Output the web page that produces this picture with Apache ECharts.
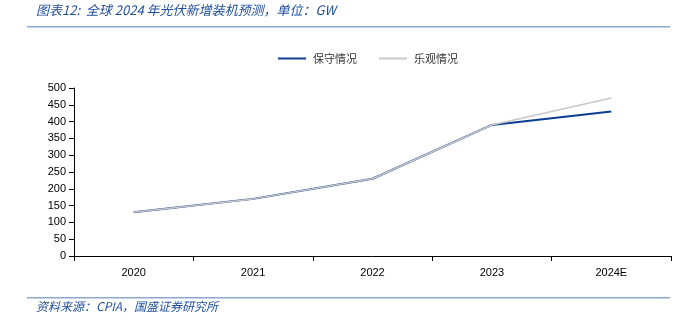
<!DOCTYPE html>
<html><head><meta charset="utf-8">
<script src="https://cdn.jsdelivr.net/npm/echarts@6/dist/echarts.min.js"></script>
<style>html,body{margin:0;padding:0;background:#fff}#c{width:691px;height:323px}</style>
</head><body><div id="c"></div>
<script>
const categories = ['2020','2021','2022','2023','2024E'];
const conservative = [130, 170, 230, 390, 430];
const optimistic = [130, 170, 230, 390, 470];
const seriesNames = ['保守情况','乐观情况'];
const titleText = '图表12:  全球 2024 年光伏新增装机预测，单位：GW';
const sourceText = '资料来源：CPIA，国盛证券研究所';

const chart = echarts.init(document.getElementById('c'));
const font = '"Noto Sans CJK SC", "DejaVu Sans", sans-serif';
chart.setOption({
  animation: false,
  textStyle: {fontFamily: font},
  legend: {
    top: 48, left: 273,
    itemWidth: 28, itemHeight: 2, itemGap: 22,
    icon: 'rect',
    textStyle: {fontSize: 11, color: '#333', fontFamily: font, padding: [0,0,0,2]},
    data: seriesNames
  },
  grid: {left: 74, right: 20, top: 88, bottom: 67},
  xAxis: {
    type: 'category', data: categories, boundaryGap: true,
    axisLine: {lineStyle: {color: '#000', width: 1}},
    axisTick: {show: true, alignWithLabel: false, length: 5, lineStyle: {color: '#000'}},
    axisLabel: {fontSize: 11, color: '#000', margin: 11, fontFamily: 'Liberation Sans, Arial, sans-serif'}
  },
  yAxis: {
    type: 'value', min: 0, max: 500, interval: 50,
    axisLine: {show: true, lineStyle: {color: '#000', width: 1}},
    axisTick: {show: true, length: 5, lineStyle: {color: '#000'}},
    splitLine: {show: false},
    axisLabel: {fontSize: 11, color: '#000', margin: 8, fontFamily: 'Liberation Sans, Arial, sans-serif'}
  },
  series: [
    {name: seriesNames[0], type: 'line', data: conservative, symbol: 'none',
     lineStyle: {color: '#0b3d91', width: 2}, itemStyle: {color: '#0b3d91'}, z: 2},
    {name: seriesNames[1], type: 'line', data: optimistic, symbol: 'none',
     lineStyle: {color: '#c8c8c8', width: 1.5}, itemStyle: {color: '#c8c8c8'}, z: 3}
  ],
  graphic: [
    {type: 'text', left: 36, top: 4, style: {text: titleText, fontSize: 13, fontStyle: 'italic', fill: '#1f4e9a', fontFamily: font}},
    {type: 'rect', shape: {x: 27, y: 26, width: 643, height: 1.5}, style: {fill: '#8ea8cf'}},
    {type: 'rect', shape: {x: 27, y: 297, width: 643, height: 1.5}, style: {fill: '#8ea8cf'}},
    {type: 'text', left: 36, top: 300, style: {text: sourceText, fontSize: 12, fontStyle: 'italic', fill: '#1f4e9a', fontFamily: font}}
  ]
});
</script></body></html>
